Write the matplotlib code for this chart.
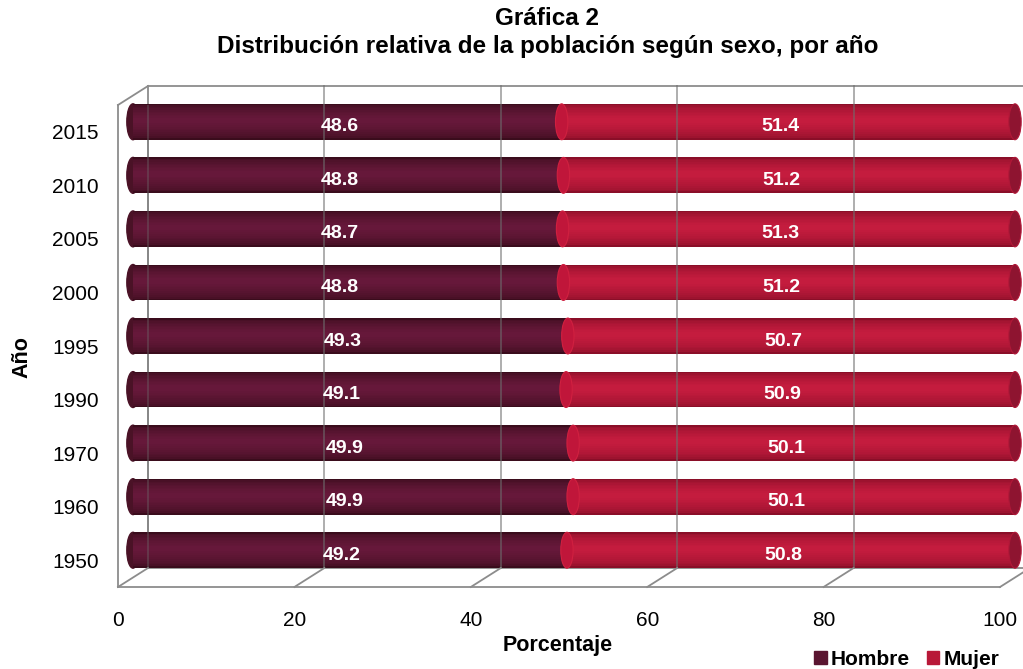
import numpy as np
import matplotlib.pyplot as plt
import matplotlib.transforms as mtransforms
from matplotlib.patches import Ellipse, Patch

plt.rcParams['font.family'] = ['Liberation Sans', 'DejaVu Sans']

# datos
anios = ['1950', '1960', '1970', '1990', '1995', '2000', '2005', '2010', '2015']
hombre = [49.2, 49.9, 49.9, 49.1, 49.3, 48.8, 48.7, 48.8, 48.6]
mujer = [50.8, 50.1, 50.1, 50.9, 50.7, 51.2, 51.3, 51.2, 51.4]
xticks = [0, 20, 40, 60, 80, 100]

W, H = 1023, 669
fig = plt.figure(figsize=(W / 100, H / 100), dpi=100)
# plano frontal del cubo 3D
ax = fig.add_axes([118 / W, 1 - 587 / H, (1000 - 118) / W, (587 - 105) / H])
ax.set_xlim(0, 100)
ax.set_ylim(-0.5, len(anios) - 0.5)
for s in ax.spines.values():
    s.set_visible(False)

def desplaza(dx, dy):
    # desplazamiento en pixeles (profundidad)
    return ax.transData + mtransforms.ScaledTranslation(dx / 100, dy / 100, fig.dpi_scale_trans)

t_fondo = desplaza(30, 19)
t_barra = desplaza(15, 10)
t_texto = desplaza(7, 5)

gcol = '#8c8c8c'
n = len(anios)
# pared del fondo y piso
ax.plot([0, 0], [-0.5, n - 0.5], color=gcol, lw=1.3, clip_on=False)
ax.plot([0, 0], [-0.5, n - 0.5], color=gcol, lw=1.3, transform=t_fondo, clip_on=False)
ax.plot([0, 100], [n - 0.5, n - 0.5], color=gcol, lw=1.3, transform=t_fondo, clip_on=False)
ax.plot([0, 100], [-0.5, -0.5], color=gcol, lw=1.3, transform=t_fondo, clip_on=False)
ax.plot([0, 100], [-0.5, -0.5], color=gcol, lw=1.3, clip_on=False)
for xv in xticks:
    x0, y0 = ax.transData.transform((xv, -0.5))
    x1, y1 = t_fondo.transform((xv, -0.5))
    fig.add_artist(plt.Line2D([x0 / W, x1 / W], [y0 / H, y1 / H], color=gcol, lw=1.3))
x0, y0 = ax.transData.transform((0, n - 0.5))
x1, y1 = t_fondo.transform((0, n - 0.5))
fig.add_artist(plt.Line2D([x0 / W, x1 / W], [y0 / H, y1 / H], color=gcol, lw=1.3))

def cilindro(left, width, y, c_borde, c_centro, h=0.67, capas=10):
    c1 = np.array(plt.matplotlib.colors.to_rgb(c_borde))
    c2 = np.array(plt.matplotlib.colors.to_rgb(c_centro))
    for k in range(capas):
        f = k / (capas - 1)
        col = c1 + (c2 - c1) * np.sqrt(f)
        hh = h * (1 - 0.85 * f)
        ax.barh(y + 0.04 * f * h, width, left=left, height=hh, color=col,
                transform=t_barra, clip_on=False, zorder=2)

ew = 1.4
for i in range(n):
    # hombre
    ax.add_patch(Ellipse((0, i), ew, 0.67, color='#4a1226', transform=t_barra, zorder=2, clip_on=False))
    cilindro(0, hombre[i], i, '#3a0c1c', '#66183a')
    # mujer
    cilindro(hombre[i], mujer[i], i, '#8a0e28', '#c41c3e')
    ax.add_patch(Ellipse((100, i), ew, 0.67, color='#8e1430', ec='#b01838', lw=0.8,
                         transform=t_barra, zorder=3, clip_on=False))
    ax.add_patch(Ellipse((hombre[i], i), ew, 0.67, color='#c0163a', ec='#d02040', lw=0.8,
                         transform=t_barra, zorder=3, clip_on=False))
    ax.text(hombre[i] / 2, i, f'{hombre[i]:.1f}', color='white', fontsize=14, fontweight='bold',
            ha='center', va='center', transform=t_texto, zorder=5)
    ax.text(hombre[i] + mujer[i] / 2, i, f'{mujer[i]:.1f}', color='white', fontsize=14,
            fontweight='bold', ha='center', va='center', transform=t_texto, zorder=5)

# lineas de la pared del fondo (se ven a traves de las barras)
for xv in xticks[1:-1]:
    ax.plot([xv, xv], [-0.5, n - 0.5], color='#6e6e6e', lw=1.3, alpha=0.6,
            transform=t_fondo, zorder=4, clip_on=False)
ax.plot([0, 0], [-0.5, n - 0.5], color='#6e6e6e', lw=1.3, alpha=0.4, transform=t_fondo, zorder=4)

ax.set_xticks(xticks)
ax.set_yticks(range(n))
ax.set_yticklabels(anios)
ax.tick_params(length=0, labelsize=15)
ax.tick_params(axis='y', pad=14)
ax.tick_params(axis='x', pad=17)

fig.text(558 / W, 1 - 645 / H, 'Porcentaje', ha='center', va='center', fontsize=15.5, fontweight='bold')
fig.text(22 / W, 1 - 357 / H, 'Año', ha='center', va='center', rotation=90, fontsize=15.5, fontweight='bold')

fig.text(0.535, 0.99, 'Gráfica 2\nDistribución relativa de la población según sexo, por año',
         ha='center', va='top', fontsize=17.5, fontweight='bold', linespacing=1.3)

fig.legend(handles=[Patch(color='#5a1530', label='Hombre'), Patch(color='#b81838', label='Mujer')],
           loc='lower right', bbox_to_anchor=(0.995, -0.028), ncol=2, frameon=False,
           handlelength=0.6, handleheight=0.6, handletextpad=0.2, columnspacing=0.8,
           prop={'weight': 'bold', 'size': 15})

fig.savefig('out.png', dpi=100)
